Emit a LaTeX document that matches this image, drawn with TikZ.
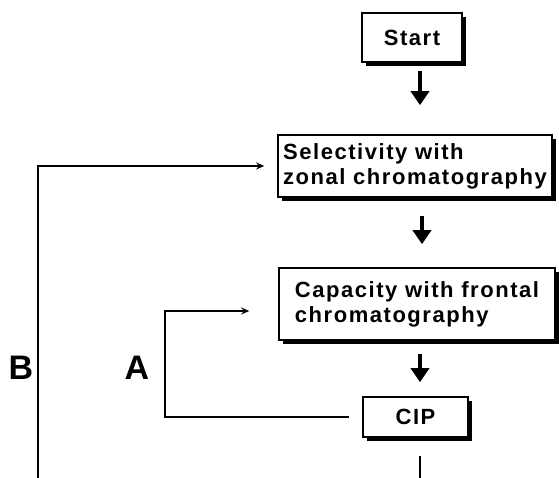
\documentclass[tikz,border=0pt]{standalone}
\usepackage{fontspec}
\setmainfont{Liberation Sans}
\newfontfamily\boxfont{Liberation Sans}[LetterSpace=7]
\usetikzlibrary{arrows.meta, shadows, positioning, calc}

\begin{document}
\begin{tikzpicture}[x=.5pt, y=-.5pt,
    stage/.style={draw, line width=.8pt, fill=white, align=left, inner sep=2pt,
      font=\boxfont\bfseries\fontsize{11}{12.5}\selectfont,
      drop shadow={shadow xshift=2pt, shadow yshift=-2pt, fill=black, opacity=1}},
    flow/.style={line width=2.2pt, -{Triangle[length=7pt, width=9pt]}},
    back/.style={line width=1pt, -{Stealth[length=4pt, width=3.5pt]}},
    tag/.style={font=\bfseries\fontsize{17}{20}\selectfont}]
      \useasboundingbox (0,0) rectangle (559,478);
      \node[stage, minimum width=50pt, minimum height=24.5pt] (start) at (412,37.5) {Start};
      \node[stage, minimum width=137pt, minimum height=31pt] (select) at (415,166) {Selectivity with\\zonal chromatography};
      \node[stage, minimum width=138pt, minimum height=36pt] (capac) at (417,304) {Capacity with frontal\\chromatography};
      \node[stage, minimum width=52.5pt, minimum height=20pt] (cip) at (415.5,417) {CIP};
      \node[tag] (labB) at (21,368) {B};
      \node[tag] (labA) at (137,368) {A};
      \coordinate (aturn) at (165,311);
      \coordinate (bbot) at (38,478);
      \coordinate (cbot) at (420,478);
      \draw[flow, shorten <=4pt, shorten >=14.5pt] ([xshift=4pt]start.south) -- ([xshift=4pt]start.south |- select.north);
      \draw[flow, shorten <=9pt, shorten >=11.5pt] ([xshift=3.5pt]select.south) -- ([xshift=3.5pt]select.south |- capac.north);
      \draw[flow, shorten <=6.5pt, shorten >=7pt] ([xshift=1.5pt]capac.south) -- ([xshift=1.5pt]capac.south |- cip.north);
      \draw[back, shorten <=6.5pt, shorten >=14.5pt] (cip.west) -| (aturn) -- (aturn -| capac.west);
      \draw[back, shorten >=6.5pt] (bbot) |- (select.west);
      \draw[line width=1pt, shorten <=9pt] (cip.south -| cbot) -- (cbot);
    \end{tikzpicture}
\end{document}
